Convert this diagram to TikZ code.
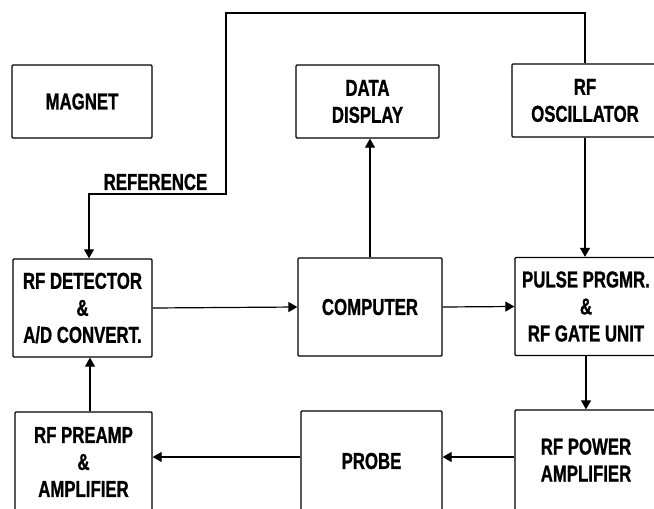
\documentclass[tikz,border=0pt]{standalone}
\usepackage{fontspec}
\newfontfamily\blockfont[FakeStretch=0.73,FakeBold=1]{Liberation Sans}
\usetikzlibrary{arrows.meta}

\begin{document}
\begin{tikzpicture}[x=1pt,y=-1pt,
    block/.style={draw, line width=1.3pt, rounded corners=1pt, align=center, inner sep=2pt,
                  font=\blockfont\bfseries\fontsize{23}{27}\selectfont},
    conn/.style={line width=1.2pt, -{Triangle[length=9pt,width=10pt]}}]

% General parameters
\def\picWidth{654}        % Width of the picture
\def\picHeight{509}       % Height of the picture
\def\topRowH{73}          % Height of the top row of blocks
\def\midRowH{98}          % Height of the middle row of blocks
\def\lowRowH{100}         % Height of the bottom row (cut by the frame)

% Frame of the picture (the right and bottom blocks run out of it)
\useasboundingbox (0,0) rectangle (\picWidth,\picHeight);
\clip (0,0) rectangle (\picWidth,\picHeight);

% Top row
\node[block, minimum width=140pt, minimum height=\topRowH pt] (magnet) at (82,101.5) {MAGNET};
\node[block, minimum width=143pt, minimum height=\topRowH pt] (data) at (367.5,101.5) {DATA\\DISPLAY};
\node[block, minimum width=146pt, minimum height=\topRowH pt] (osc) at (585,100.5) {RF\\OSCILLATOR};

% Middle row
\node[block, minimum width=139pt, minimum height=\midRowH pt] (det) at (82.5,308) {RF DETECTOR\\\&\\A/D CONVERT.};
\node[block, minimum width=144pt, minimum height=\midRowH pt] (comp) at (370,307) {COMPUTER};
\node[block, minimum width=142pt, minimum height=\midRowH pt] (pulse) at (586,306.5) {PULSE PRGMR.\\\&\\RF GATE UNIT};

% Bottom row
\node[block, minimum width=137pt, minimum height=\lowRowH pt] (preamp) at (83.5,462) {RF PREAMP\\\&\\AMPLIFIER};
\node[block, minimum width=141pt, minimum height=\lowRowH pt] (probe) at (371.5,461) {PROBE};
\node[block, minimum width=142pt, minimum height=\lowRowH pt] (power) at (586,460) {RF POWER\\AMPLIFIER};

% Helper coordinates for the wires
\coordinate (refTop) at (226,13);     % top left corner of the reference wire
\coordinate (refLow) at (89,194);     % lower corner above the detector
\coordinate (leftCol) at (90,0);      % column of the left vertical arrow
\coordinate (lowLine) at (0,457);     % level of the bottom arrows

% Reference wire from the oscillator to the detector
\draw[conn] (osc.north) |- (refTop) |- (refLow) -- (refLow |- det.north);
\node[font=\blockfont\bfseries\fontsize{23}{27}\selectfont, inner sep=0pt] (reflabel) at (155.5,182) {REFERENCE};

% Signal path
\draw[conn] (osc.south) -- (osc.south |- pulse.north);
\draw[conn] (pulse.south) -- (pulse.south |- power.north);
\draw[conn] (power.west |- lowLine) -- (probe.east |- lowLine);
\draw[conn] (probe.west |- lowLine) -- (preamp.east |- lowLine);
\draw[conn] (leftCol |- preamp.north) -- (leftCol |- det.south);
\draw[conn] (det.east) -- (comp.west);
\draw[conn] (comp.east) -- (pulse.west);
\draw[conn] (comp.north) -- (comp.north |- data.south);

\end{tikzpicture}
\end{document}
